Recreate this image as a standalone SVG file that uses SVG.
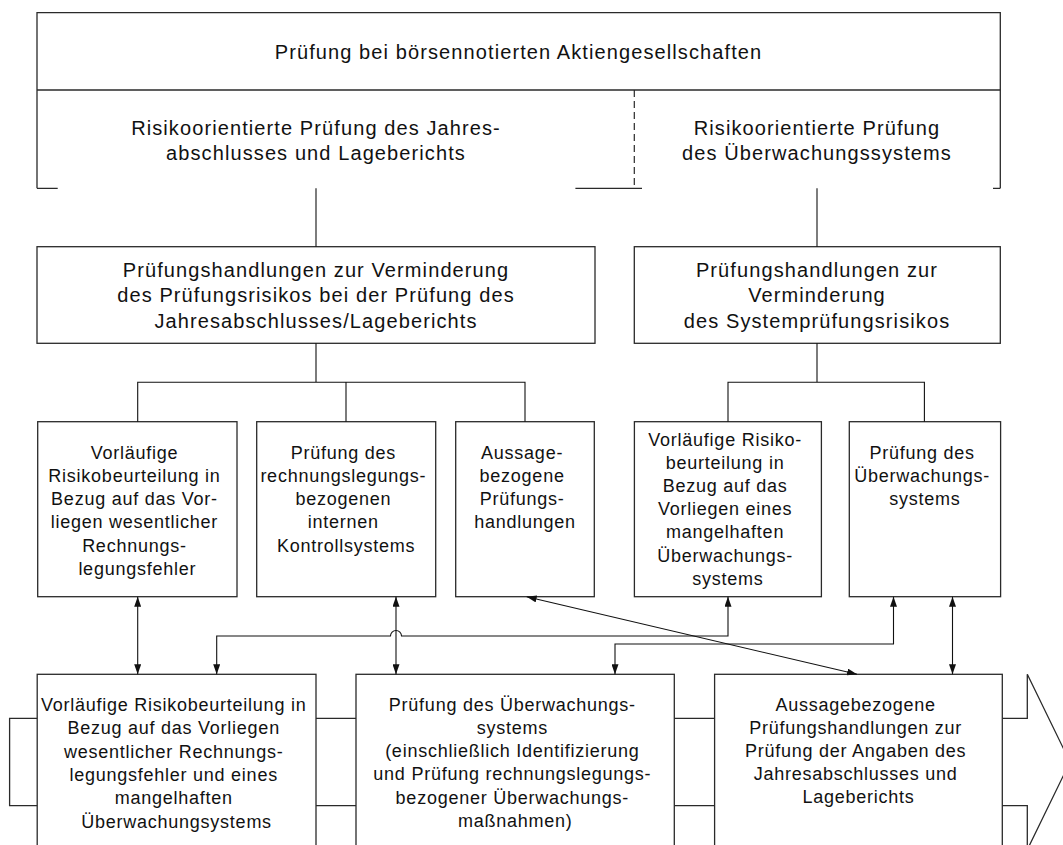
<svg xmlns="http://www.w3.org/2000/svg" width="1063" height="845" viewBox="0 0 1063 845">
  <style>
    .box { fill: #ffffff; stroke: #2a2a2a; stroke-width: 1.3; }
    .ln { fill: none; stroke: #2a2a2a; stroke-width: 1.3; }
    .dash { fill: none; stroke: #2a2a2a; stroke-width: 1.2; stroke-dasharray: 7 4; }
    .con { fill: none; stroke: #111111; stroke-width: 1.1; }
    .arr { fill: none; stroke: #111111; stroke-width: 1.1; marker-start: url(#ah); marker-end: url(#ah); }
    .arr1 { fill: none; stroke: #111111; stroke-width: 1.1; marker-end: url(#ah); }
    text { font-family: "Liberation Sans", Arial, Helvetica, sans-serif; fill: #111111; text-anchor: middle; }
    .big { font-size: 20px; letter-spacing: 1.1px; }
    .sm { font-size: 18px; letter-spacing: 0.75px; }
  </style>
  <defs>
    <marker id="ah" viewBox="0 0 10 7" refX="10" refY="3.5" markerWidth="10" markerHeight="7" markerUnits="userSpaceOnUse" orient="auto-start-reverse">
      <path d="M0,0 L10,3.5 L0,7 z" fill="#111111"/>
    </marker>
  </defs>

  <!-- top frame: title row and the two risk-oriented audit sections -->
  <g id="top-frame">
    <path class="ln" d="M37,188.3 V12.7 H1000.3 V188.3"/>
    <path class="ln" d="M37,90 H1000.3"/>
    <path class="dash" d="M634.3,90 V188.3"/>
    <path class="ln" d="M37,188.3 H57.7 M575.4,188.3 H642 M993,188.3 H1000.3"/>
    <text class="big" x="518.5" y="58.5">Prüfung bei börsennotierten Aktiengesellschaften</text>
  </g>
  <g id="section-annual">
    <text class="big" x="316" y="135">Risikoorientierte Prüfung des Jahres-</text>
    <text class="big" x="316" y="160">abschlusses und Lageberichts</text>
  </g>
  <g id="section-monitoring">
    <text class="big" x="817" y="135">Risikoorientierte Prüfung</text>
    <text class="big" x="817" y="160">des Überwachungssystems</text>
  </g>

  <!-- second level -->
  <g id="procedures-annual">
    <rect class="box" x="37" y="246.7" width="558" height="96.6"/>
    <text class="big" x="316" y="276.5">Prüfungshandlungen zur Verminderung</text>
    <text class="big" x="316" y="302">des Prüfungsrisikos bei der Prüfung des</text>
    <text class="big" x="316" y="327.5">Jahresabschlusses/Lageberichts</text>
  </g>
  <g id="procedures-system">
    <rect class="box" x="634.3" y="246.7" width="366" height="96.6"/>
    <text class="big" x="817" y="276.5">Prüfungshandlungen zur</text>
    <text class="big" x="817" y="302">Verminderung</text>
    <text class="big" x="817" y="327.5">des Systemprüfungsrisikos</text>
  </g>

  <!-- third level -->
  <g id="prelim-risk">
    <rect class="box" x="37.7" y="421.7" width="199.3" height="175"/>
    <text class="sm" x="137.3">
      <tspan x="137.3" y="458.5">Vorläufige</tspan>
      <tspan x="137.3" y="481.8">Risikobeurteilung in</tspan>
      <tspan x="137.3" y="505.1">Bezug auf das Vor-</tspan>
      <tspan x="137.3" y="528.4">liegen wesentlicher</tspan>
      <tspan x="137.3" y="551.7">Rechnungs-</tspan>
      <tspan x="137.3" y="575">legungsfehler</tspan>
    </text>
  </g>
  <g id="ics-audit">
    <rect class="box" x="256.7" y="421.7" width="179" height="175"/>
    <text class="sm" x="346.2">
      <tspan x="346.2" y="458.5">Prüfung des</tspan>
      <tspan x="346.2" y="481.8">rechnungslegungs-</tspan>
      <tspan x="346.2" y="505.1">bezogenen</tspan>
      <tspan x="346.2" y="528.4">internen</tspan>
      <tspan x="346.2" y="551.7">Kontrollsystems</tspan>
    </text>
  </g>
  <g id="substantive">
    <rect class="box" x="455.7" y="421.7" width="138.6" height="175"/>
    <text class="sm" x="525">
      <tspan x="525" y="458.5">Aussage-</tspan>
      <tspan x="525" y="481.8">bezogene</tspan>
      <tspan x="525" y="505.1">Prüfungs-</tspan>
      <tspan x="525" y="528.4">handlungen</tspan>
    </text>
  </g>
  <g id="prelim-system-risk">
    <rect class="box" x="634.4" y="421.7" width="187" height="175"/>
    <text class="sm" x="728">
      <tspan x="728" y="446">Vorläufige Risiko-</tspan>
      <tspan x="728" y="469.1">beurteilung in</tspan>
      <tspan x="728" y="492.2">Bezug auf das</tspan>
      <tspan x="728" y="515.3">Vorliegen eines</tspan>
      <tspan x="728" y="538.4">mangelhaften</tspan>
      <tspan x="728" y="561.5">Überwachungs-</tspan>
      <tspan x="728" y="584.6">systems</tspan>
    </text>
  </g>
  <g id="system-audit">
    <rect class="box" x="849.3" y="421.7" width="151.3" height="175"/>
    <text class="sm" x="925">
      <tspan x="925" y="458.5">Prüfung des</tspan>
      <tspan x="925" y="481.8">Überwachungs-</tspan>
      <tspan x="925" y="505.1">systems</tspan>
    </text>
  </g>

  <!-- bottom process chain -->
  <g id="chain-risk">
    <rect class="box" x="37.2" y="674.3" width="278.8" height="180"/>
    <text class="sm" x="176.6">
      <tspan x="176.6" y="711">Vorläufige Risikobeurteilung in</tspan>
      <tspan x="176.6" y="734.3">Bezug auf das Vorliegen</tspan>
      <tspan x="176.6" y="757.6">wesentlicher Rechnungs-</tspan>
      <tspan x="176.6" y="780.9">legungsfehler und eines</tspan>
      <tspan x="176.6" y="804.2">mangelhaften</tspan>
      <tspan x="176.6" y="827.5">Überwachungsystems</tspan>
    </text>
  </g>
  <g id="chain-system">
    <rect class="box" x="356" y="674.3" width="318.3" height="180"/>
    <text class="sm" x="515.2">
      <tspan x="515.2" y="710.5">Prüfung des Überwachungs-</tspan>
      <tspan x="515.2" y="733.8">systems</tspan>
      <tspan x="515.2" y="757.1">(einschließlich Identifizierung</tspan>
      <tspan x="515.2" y="780.4">und Prüfung rechnungslegungs-</tspan>
      <tspan x="515.2" y="803.7">bezogener Überwachungs-</tspan>
      <tspan x="515.2" y="827">maßnahmen)</tspan>
    </text>
  </g>
  <g id="chain-substantive">
    <rect class="box" x="714.6" y="674.3" width="287.7" height="180"/>
    <text class="sm" x="858.5">
      <tspan x="858.5" y="711">Aussagebezogene</tspan>
      <tspan x="858.5" y="734">Prüfungshandlungen zur</tspan>
      <tspan x="858.5" y="757">Prüfung der Angaben des</tspan>
      <tspan x="858.5" y="780">Jahresabschlusses und</tspan>
      <tspan x="858.5" y="803">Lageberichts</tspan>
    </text>
  </g>
  <g id="chain-flow">
    <path class="ln" d="M37.2,718.3 H9.6 V805.7 H37.2"/>
    <path class="ln" d="M316,718.3 H356 M316,805.7 H356"/>
    <path class="ln" d="M674.3,718.3 H714.6 M674.3,805.7 H714.6"/>
    <path class="ln" d="M1002.3,718.3 H1027.3 V674.3 L1070,762 L1027.3,849.7 V805.7 H1002.3"/>
  </g>

  <!-- connectors -->
  <g id="connectors">
    <path class="con" d="M316,188.3 V246.7"/>
    <path class="con" d="M817,188.3 V246.7"/>
    <path class="con" d="M316,343.3 V382.3 M137.7,421.7 V382.3 H525 V421.7 M346,382.3 V421.7"/>
    <path class="con" d="M817,343.3 V382.3 M728,421.7 V382.3 H924.4 V421.7"/>
    <path class="arr" d="M137.7,596.7 V674.3"/>
    <path class="arr" d="M396,596.7 V674.3"/>
    <path class="arr" d="M728,596.7 V636 H401.5 A5.5,5.5 0 0 0 390.5,636 H216.7 V674.3"/>
    <path class="arr" d="M893.5,596.7 V644 H615 V674.3"/>
    <path class="arr" d="M526.7,596.7 L857,674.3"/>
    <path class="arr" d="M952.5,596.7 V674.3"/>
  </g>
</svg>
